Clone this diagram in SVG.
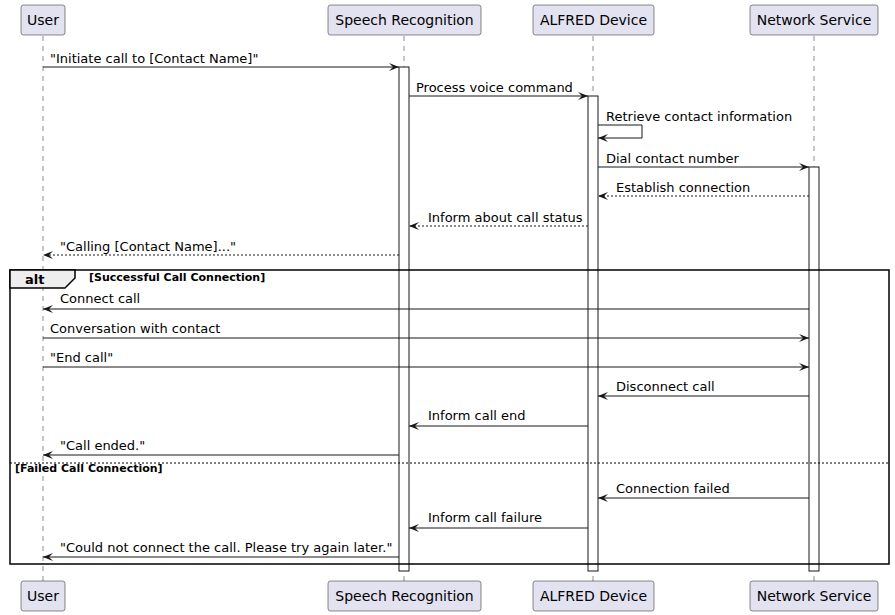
<svg xmlns="http://www.w3.org/2000/svg" width="895" height="615" viewBox="0 0 895 615">
<defs>
<style>
.pbox{fill:#E2E2F0;stroke:#181818;stroke-width:0.5}
.pt{font-family:"DejaVu Sans",sans-serif;font-size:14px;fill:#000;text-anchor:middle}
.life{stroke:#181818;stroke-width:0.5;stroke-dasharray:5,5;fill:none}
.act{fill:#FFFFFF;stroke:#181818;stroke-width:1}
.msg{stroke:#181818;stroke-width:1;fill:none}
.dash{stroke-dasharray:2,2}
.mt{font-family:"DejaVu Sans",sans-serif;font-size:13px;fill:#000}
.frame{fill:none;stroke:#000;stroke-width:1.5}
.tab{fill:#EEEEEE;stroke:#000;stroke-width:1.5}
.bold{font-family:"DejaVu Sans",sans-serif;font-weight:bold;fill:#000}
</style>
<marker id="ah" viewBox="0 0 10 8" refX="10" refY="4" markerWidth="10" markerHeight="8" markerUnits="userSpaceOnUse" orient="auto">
<path d="M0,0 L10,4 L0,8 L4,4 Z" fill="#181818"/>
</marker>
<marker id="oh" viewBox="0 0 10 8" refX="10" refY="4" markerWidth="10" markerHeight="8" markerUnits="userSpaceOnUse" orient="auto">
<path d="M0,0 L10,4 L0,8" fill="none" stroke="#181818" stroke-width="1.5"/>
</marker>
</defs>
<rect width="895" height="615" fill="#FFFFFF"/>
<g id="lifelines">
<line class="life" x1="43" y1="36" x2="43" y2="581"/>
<line class="life" x1="404" y1="36" x2="404" y2="581"/>
<line class="life" x1="593" y1="36" x2="593" y2="581"/>
<line class="life" x1="814" y1="36" x2="814" y2="581"/>
</g>
<g id="activations">
<rect class="act" x="399" y="67" width="10" height="504"/>
<rect class="act" x="588" y="96" width="10" height="475"/>
<rect class="act" x="809" y="167" width="10" height="404"/>
</g>
<g id="user">
<rect class="pbox" x="21" y="5" width="44" height="30" rx="2.5"/>
<text class="pt" x="43" y="25">User</text>
<rect class="pbox" x="21" y="581" width="44" height="30" rx="2.5"/>
<text class="pt" x="43" y="601">User</text>
</g>
<g id="speech">
<rect class="pbox" x="328" y="5" width="153" height="30" rx="2.5"/>
<text class="pt" x="404.5" y="25">Speech Recognition</text>
<rect class="pbox" x="328" y="581" width="153" height="30" rx="2.5"/>
<text class="pt" x="404.5" y="601">Speech Recognition</text>
</g>
<g id="alfred">
<rect class="pbox" x="533" y="5" width="121" height="30" rx="2.5"/>
<text class="pt" x="593.5" y="25">ALFRED Device</text>
<rect class="pbox" x="533" y="581" width="121" height="30" rx="2.5"/>
<text class="pt" x="593.5" y="601">ALFRED Device</text>
</g>
<g id="network">
<rect class="pbox" x="750" y="5" width="128" height="30" rx="2.5"/>
<text class="pt" x="814" y="25">Network Service</text>
<rect class="pbox" x="750" y="581" width="128" height="30" rx="2.5"/>
<text class="pt" x="814" y="601">Network Service</text>
</g>
<g id="alt-frame">
<rect class="frame" x="10" y="270" width="879" height="294"/>
<path class="tab" d="M10,270 L75,270 L75,278 L65,288 L10,288 Z"/>
<text class="bold" x="25" y="284" font-size="13">alt</text>
<text class="bold" x="89" y="281" font-size="11">[Successful Call Connection]</text>
<line x1="10" y1="463" x2="889" y2="463" stroke="#000" stroke-width="1" stroke-dasharray="2,2"/>
<text class="bold" x="15" y="472" font-size="11">[Failed Call Connection]</text>
</g>
<g id="connectors">
<line class="msg" x1="43" y1="67" x2="399" y2="67" marker-end="url(#ah)"/>
<text class="mt" x="50" y="63">"Initiate call to [Contact Name]"</text>
<line class="msg" x1="409" y1="96" x2="588" y2="96" marker-end="url(#ah)"/>
<text class="mt" x="416" y="92">Process voice command</text>
<polyline class="msg" points="598,125 642,125 642,138 598,138" marker-end="url(#ah)"/>
<text class="mt" x="606" y="121">Retrieve contact information</text>
<line class="msg" x1="598" y1="167" x2="809" y2="167" marker-end="url(#ah)"/>
<text class="mt" x="606" y="163">Dial contact number</text>
<line class="msg dash" x1="809" y1="196" x2="598" y2="196" marker-end="url(#ah)"/>
<text class="mt" x="616" y="192">Establish connection</text>
<line class="msg dash" x1="588" y1="226" x2="409" y2="226" marker-end="url(#ah)"/>
<text class="mt" x="428" y="222">Inform about call status</text>
<line class="msg dash" x1="399" y1="255" x2="43" y2="255" marker-end="url(#ah)"/>
<text class="mt" x="60" y="251">"Calling [Contact Name]..."</text>
<line class="msg" x1="809" y1="309" x2="43" y2="309" marker-end="url(#ah)"/>
<text class="mt" x="60" y="303">Connect call</text>
<line class="msg" x1="43" y1="338" x2="809" y2="338" marker-end="url(#ah)"/>
<text class="mt" x="50" y="333">Conversation with contact</text>
<line class="msg" x1="43" y1="367" x2="809" y2="367" marker-end="url(#ah)"/>
<text class="mt" x="50" y="362">"End call"</text>
<line class="msg" x1="809" y1="396" x2="598" y2="396" marker-end="url(#ah)"/>
<text class="mt" x="616" y="391">Disconnect call</text>
<line class="msg" x1="588" y1="426" x2="409" y2="426" marker-end="url(#ah)"/>
<text class="mt" x="428" y="420">Inform call end</text>
<line class="msg" x1="399" y1="455" x2="43" y2="455" marker-end="url(#ah)"/>
<text class="mt" x="60" y="450">"Call ended."</text>
<line class="msg" x1="809" y1="498" x2="598" y2="498" marker-end="url(#ah)"/>
<text class="mt" x="616" y="493">Connection failed</text>
<line class="msg" x1="588" y1="528" x2="409" y2="528" marker-end="url(#ah)"/>
<text class="mt" x="428" y="522">Inform call failure</text>
<line class="msg" x1="399" y1="557" x2="43" y2="557" marker-end="url(#ah)"/>
<text class="mt" x="60" y="552">"Could not connect the call. Please try again later."</text>
</g>
</svg>
